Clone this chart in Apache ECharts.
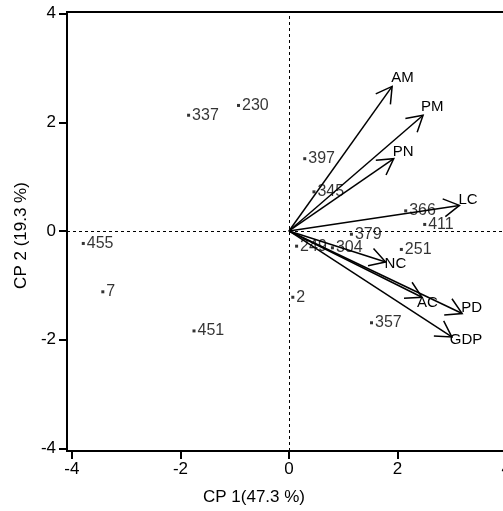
<!DOCTYPE html>
<html>
<head>
<meta charset="utf-8">
<script src="https://cdn.jsdelivr.net/npm/echarts@6/dist/echarts.min.js"></script>
<style>
  html, body { margin: 0; padding: 0; background: #fff; }
  #chart { width: 503px; height: 511px; }
</style>
</head>
<body>
<div id="chart"></div>
<script>
// Observation scores on the first two principal components
const pointIds = ['337', '230', '455', '7', '451', '397', '345', '366', '411', '379', '249', '304', '251', '2', '357'];
const pointX = [-1.85, -0.93, -3.79, -3.43, -1.75, 0.29, 0.46, 2.15, 2.50, 1.15, 0.14, 0.80, 2.07, 0.07, 1.52];
const pointY = [2.13, 2.31, -0.23, -1.12, -1.84, 1.33, 0.72, 0.37, 0.12, -0.06, -0.28, -0.31, -0.34, -1.22, -1.69];

// Variable loadings (arrow tips)
const varNames = ['AM', 'PM', 'PN', 'LC', 'NC', 'AC', 'PD', 'GDP'];
const varX = [1.90, 2.47, 1.93, 3.14, 1.78, 2.45, 3.19, 3.00];
const varY = [2.66, 2.13, 1.33, 0.47, -0.57, -1.22, -1.52, -1.95];

// Axis ticks
const tickValues = [-4, -2, 0, 2, 4];

const FONT = '"Liberation Sans", Arial, sans-serif';

// Pixel nudges for arrow labels relative to each arrow tip
const labelNudge = {
  AM: [-1, -9], PM: [-2, -8], PN: [-1, -7], LC: [-1, -6],
  NC: [-1, 2], AC: [-5, 6], PD: [-1, -6], GDP: [-2, 3]
};

const points = pointIds.map((id, i) => [pointX[i], pointY[i], id]);
const arrows = varNames.map((n, i) => [varX[i], varY[i], n]);

const axisCommon = {
  type: 'value',
  axisLine: { show: true, onZero: false, lineStyle: { color: '#000', width: 2 } },
  axisTick: { show: true, customValues: tickValues, length: 8, lineStyle: { color: '#000', width: 2 } },
  axisLabel: { customValues: tickValues, color: '#000', fontSize: 17, fontFamily: FONT },
  splitLine: { show: false },
  nameLocation: 'middle'
};

const chart = echarts.init(document.getElementById('chart'));
chart.setOption({
  animation: false,
  backgroundColor: '#fff',
  grid: {
    left: 67, top: 12, right: -8, bottom: 60,
    show: true, borderColor: '#000', borderWidth: 2,
    outerBoundsMode: 'none'
  },
  xAxis: Object.assign({}, axisCommon, {
    min: -4.09, max: 4.09,
    axisLabel: Object.assign({}, axisCommon.axisLabel, { margin: 10 }),
    name: 'CP 1(47.3 %)',
    nameGap: 38,
    nameTextStyle: { color: '#000', fontSize: 17, fontFamily: FONT, padding: [0, 70, 0, 0] }
  }),
  yAxis: Object.assign({}, axisCommon, {
    min: -4.05, max: 4.03,
    axisLabel: Object.assign({}, axisCommon.axisLabel, { margin: 11 }),
    name: 'CP 2 (19.3 %)',
    nameGap: 35,
    nameTextStyle: { color: '#000', fontSize: 17, fontFamily: FONT, padding: [0, 8, 0, 0] }
  }),
  series: [
    {
      type: 'scatter',
      data: points,
      symbol: 'rect',
      symbolSize: 3,
      itemStyle: { color: '#000' },
      label: {
        show: true,
        position: 'right',
        distance: 2,
        formatter: p => p.data[2],
        color: '#000',
        fontSize: 16,
        fontFamily: FONT
      },
      markLine: {
        silent: true,
        symbol: ['none', 'none'],
        label: { show: false },
        lineStyle: { color: '#000', width: 1, type: [3, 3] },
        data: [{ xAxis: 0 }, { yAxis: 0 }]
      },
      z: 2
    },
    {
      type: 'custom',
      data: arrows,
      encode: { x: 0, y: 1 },
      z: 3,
      renderItem: function (params, api) {
        const o = api.coord([0, 0]);
        const t = api.coord([api.value(0), api.value(1)]);
        const ang = Math.atan2(t[1] - o[1], t[0] - o[0]);
        const L = 18, a = Math.PI / 6;
        const p1 = [t[0] - L * Math.cos(ang - a), t[1] - L * Math.sin(ang - a)];
        const p2 = [t[0] - L * Math.cos(ang + a), t[1] - L * Math.sin(ang + a)];
        const name = varNames[params.dataIndex];
        const nudge = labelNudge[name] || [0, 0];
        return {
          type: 'group',
          children: [
            { type: 'line', shape: { x1: o[0], y1: o[1], x2: t[0], y2: t[1] },
              style: { stroke: '#000', lineWidth: 1.5 } },
            { type: 'polyline', shape: { points: [p1, t, p2] },
              style: { stroke: '#000', lineWidth: 1.5, fill: null } },
            { type: 'text', x: t[0] + nudge[0], y: t[1] + nudge[1],
              style: { text: name, fill: '#000', font: '15px ' + FONT, align: 'left', verticalAlign: 'middle' } }
          ]
        };
      }
    }
  ]
});
</script>
</body>
</html>
